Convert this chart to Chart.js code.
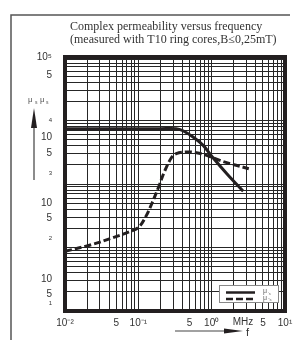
<!DOCTYPE html>
<html>
<head>
<meta charset="utf-8">
<script src="https://cdn.jsdelivr.net/npm/chart.js@4/dist/chart.umd.min.js"></script>
<style>
  html, body { margin: 0; padding: 0; background: #fff; }
  canvas { display: block; }
</style>
</head>
<body>
<canvas id="permChart" width="299" height="340"></canvas>
<script>
// frequency in MHz, permeability values
var freqReal = [0.01, 0.1, 0.2, 0.329, 0.406, 0.557, 0.766, 1.05, 1.61, 2.69];
var muReal   = [7430, 7430, 7430, 7430, 6900, 5500, 4060, 2565, 1452, 767];

var freqImag = [0.01, 0.0231, 0.0437, 0.0785, 0.102, 0.129, 0.156, 0.193, 0.226, 0.281, 0.329, 0.452, 0.621, 0.853, 1.17, 1.79, 3.21];
var muImag   = [87, 111, 141, 180, 210, 321, 521, 953, 1545, 2565, 3000, 3190, 3110, 2830, 2450, 2090, 1742];

var xTickValues = [0.01, 0.05, 0.1, 0.5, 1, 5, 10];
var xTickLabels = ['10\u207B\u00B2', '5', '10\u207B\u00B9', '5', '10\u2070', '5', '10\u00B9'];

// left axis labels as printed (positions follow the picture)
var yTickValues = [100000, 52100, 10190, 5500, 3080, 1490, 502, 292, 141, 31.9, 18.5, 13.4];
var yTickLabels = ['10\u2075', '5', '4', '10', '5', '3', '10', '5', '2', '10', '5', '1'];
var yTickSmall  = [false, false, true, false, false, true, false, false, true, false, false, true];

var seriesNames = ["\u03BC's", "\u03BC''s"];

function logGrid(lo, hi) {
  var vals = [];
  for (var e = lo; e < hi; e++) {
    for (var m = 1; m < 10; m++) vals.push(m * Math.pow(10, e));
  }
  vals.push(Math.pow(10, hi));
  return vals;
}

function pts(xs, ys) {
  return xs.map(function(x, i) { return {x: x, y: ys[i]}; });
}

var ink = '#231f20';

var decor = {
  id: 'decor',
  beforeDraw: function(chart) {
    var c = chart.ctx;
    c.save();
    c.fillStyle = '#fff';
    c.fillRect(0, 0, chart.width, chart.height);
    c.restore();
  },
  afterDraw: function(chart) {
    var c = chart.ctx, a = chart.chartArea;
    c.save();

    // outer page lines
    c.strokeStyle = '#555';
    c.lineWidth = 1.5;
    c.beginPath();
    c.moveTo(11, 340); c.lineTo(11, 15); c.lineTo(290, 15);
    c.stroke();

    // heavy frame round the plot
    c.strokeStyle = ink;
    c.lineWidth = 4;
    c.strokeRect(a.left, a.top, a.right - a.left, a.bottom - a.top);

    // title
    c.fillStyle = '#333';
    c.font = '12px "Liberation Serif"';
    c.textAlign = 'left';
    c.textBaseline = 'alphabetic';
    c.fillText('Complex permeability versus frequency', 70, 30);
    c.fillText('(measured with T10 ring cores,B\u22640,25mT)', 70, 43);

    // y title and arrow
    c.fillStyle = '#555';
    c.font = '8px "Liberation Sans"';
    c.fillText('\u03BC', 28, 102);
    c.fillText('\u03BC', 40, 102);
    c.font = '5px "Liberation Sans"';
    c.fillText('s', 35, 104);
    c.fillText('s', 46, 104);

    c.strokeStyle = '#666';
    c.lineWidth = 1.5;
    c.beginPath(); c.moveTo(34, 180); c.lineTo(34, 122); c.stroke();
    c.fillStyle = ink;
    c.beginPath(); c.moveTo(34, 108); c.lineTo(31, 128); c.lineTo(37, 128); c.closePath(); c.fill();

    // x unit and arrow
    c.fillStyle = '#333';
    c.font = '10px "Liberation Sans"';
    c.textAlign = 'center';
    c.textBaseline = 'middle';
    c.fillText('MHz', 243, 322);
    c.font = '11px "Liberation Sans"';
    c.textAlign = 'left';
    c.fillText('f', 246, 333);
    c.strokeStyle = '#444';
    c.lineWidth = 1.2;
    c.beginPath(); c.moveTo(175, 331); c.lineTo(230, 331); c.stroke();
    c.fillStyle = ink;
    c.beginPath(); c.moveTo(243, 331); c.lineTo(224, 328.5); c.lineTo(224, 333.5); c.closePath(); c.fill();

    // legend box
    c.fillStyle = '#fff';
    c.fillRect(219, 285, 60, 18);
    c.strokeStyle = '#888';
    c.lineWidth = 1;
    c.strokeRect(219.5, 285.5, 59, 17);
    chart.data.datasets.forEach(function(ds, i) {
      var y = 292.5 + i * 6.5;
      c.strokeStyle = ds.borderColor;
      c.lineWidth = 2.5;
      c.setLineDash(ds.borderDash || []);
      c.beginPath(); c.moveTo(226, y); c.lineTo(255, y); c.stroke();
      c.setLineDash([]);
      c.fillStyle = '#666';
      c.textAlign = 'left';
      c.textBaseline = 'middle';
      c.font = '7px "Liberation Sans"';
      c.fillText(ds.label.charAt(0), 263, y - 1);
      c.font = '4px "Liberation Sans"';
      c.fillText(ds.label.slice(1), 268, y + 1);
    });

    c.restore();
  }
};

new Chart(document.getElementById('permChart'), {
  type: 'line',
  data: {
    datasets: [{
      label: seriesNames[0],
      data: pts(freqReal, muReal),
      borderColor: ink,
      borderWidth: 3,
      pointRadius: 0,
      tension: 0.35,
      fill: false
    }, {
      label: seriesNames[1],
      data: pts(freqImag, muImag),
      borderColor: ink,
      borderWidth: 3,
      borderDash: [7, 3],
      pointRadius: 0,
      tension: 0.35,
      fill: false
    }]
  },
  options: {
    responsive: false,
    animation: false,
    devicePixelRatio: 1,
    layout: { padding: { left: 0, right: 14, top: 57, bottom: 0 } },
    plugins: {
      legend: { display: false },
      title: { display: false },
      tooltip: { enabled: false }
    },
    scales: {
      x: {
        type: 'logarithmic',
        min: 0.01,
        max: 10,
        afterBuildTicks: function(scale) {
          scale.ticks = logGrid(-2, 1).map(function(v) { return {value: v}; });
        },
        afterFit: function(scale) { scale.height = 29; },
        grid: { color: '#262626', lineWidth: 1, drawTicks: false },
        border: { display: false },
        ticks: {
          autoSkip: false,
          maxRotation: 0,
          padding: 6,
          color: '#333',
          font: { family: 'Liberation Sans', size: 10 },
          callback: function(v) {
            for (var i = 0; i < xTickValues.length; i++) {
              if (Math.abs(v / xTickValues[i] - 1) < 1e-6) return xTickLabels[i];
            }
            return '';
          }
        }
      },
      y: {
        type: 'logarithmic',
        position: 'left',
        min: 10,
        max: 100000,
        afterBuildTicks: function(scale) {
          scale.ticks = logGrid(1, 5).map(function(v) { return {value: v}; });
        },
        afterFit: function(scale) { scale.width = 0; },
        grid: { color: '#262626', lineWidth: 1, drawTicks: false },
        border: { display: false },
        ticks: { display: false }
      },
      yl: {
        type: 'logarithmic',
        position: 'left',
        min: 10,
        max: 100000,
        afterBuildTicks: function(scale) {
          scale.ticks = yTickValues.map(function(v) { return {value: v}; });
        },
        afterFit: function(scale) { scale.width = 65; },
        grid: { display: false },
        border: { display: false },
        ticks: {
          autoSkip: false,
          padding: 5,
          color: '#333',
          font: function(ctx) {
            return { family: 'Liberation Sans', size: yTickSmall[ctx.index] ? 6 : 10 };
          },
          callback: function(v, i) { return yTickLabels[i]; }
        }
      }
    }
  },
  plugins: [decor]
});
</script>
</body>
</html>
